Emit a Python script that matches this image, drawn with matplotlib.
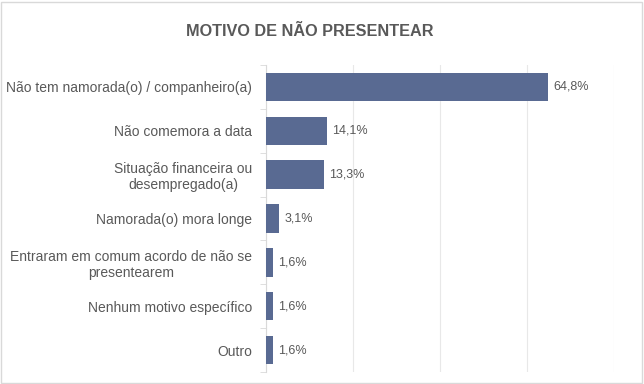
import matplotlib.pyplot as plt
from matplotlib.patches import Rectangle

categorias = [
    "Não tem namorada(o) / companheiro(a)",
    "Não comemora a data",
    "Situação financeira ou\ndesempregado(a)",
    "Namorada(o) mora longe",
    "Entraram em comum acordo de não se\npresentearem",
    "Nenhum motivo específico",
    "Outro",
]
valores = [64.8, 14.1, 13.3, 3.1, 1.6, 1.6, 1.6]
rotulos = ["64,8%", "14,1%", "13,3%", "3,1%", "1,6%", "1,6%", "1,6%"]

plt.rcParams["font.family"] = ["Liberation Sans", "DejaVu Sans"]
cinza = "#595959"

fig = plt.figure(figsize=(6.44, 3.84), dpi=100)
ax = fig.add_axes([266 / 644, 1 - 372 / 384, 348 / 644, 307 / 384])

pos = list(range(len(categorias)))
ax.barh(pos, valores, height=0.65, color="#596A92", zorder=3)
for p, v, r in zip(pos, valores, rotulos):
    ax.text(v + 1.2, p, r, va="center", ha="left", fontsize=9, color=cinza)

ax.set_xlim(0, 80)
ax.set_ylim(len(categorias) - 0.5, -0.5)
ax.set_xticks([0, 20, 40, 60, 80])
ax.xaxis.grid(True, color="#e8e8e8", linewidth=0.8, zorder=0)
ax.tick_params(axis="x", length=0, labelbottom=False)

ax.set_yticks(pos)
ax.set_yticklabels(categorias, fontsize=10, color=cinza, ha="right")
ax.tick_params(axis="y", which="major", length=0, pad=10)
for lbl in ax.get_yticklabels():
    lbl.set_multialignment("center")
ax.set_yticks([p + 0.5 for p in range(-1, len(categorias))], minor=True)
ax.tick_params(axis="y", which="minor", length=4, color="#d9d9d9")

for s in ["top", "right", "bottom"]:
    ax.spines[s].set_visible(False)
ax.spines["left"].set_color("#d9d9d9")

fig.text(310 / 644, 1 - 32 / 384, "MOTIVO DE NÃO PRESENTEAR", ha="center", va="center",
         fontsize=11.7, fontweight="bold", color=cinza)

fig.patches.append(Rectangle((1 / 644, 1 / 384), 641 / 644, 381 / 384, transform=fig.transFigure,
                             fill=False, edgecolor="#d9d9d9", linewidth=1))

fig.savefig("out.png", dpi=100)
